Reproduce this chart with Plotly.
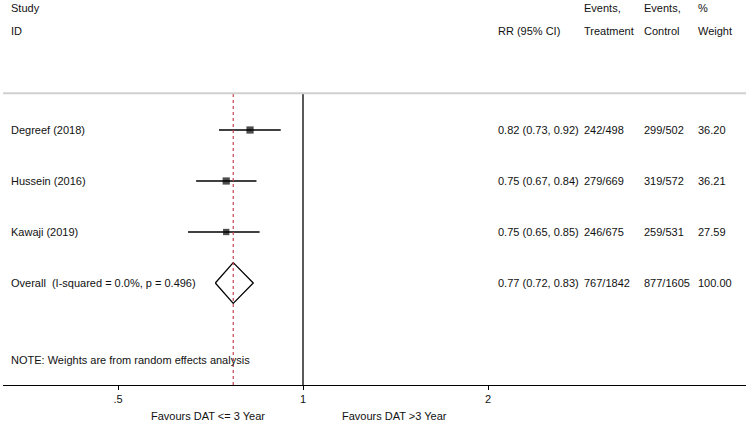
import plotly.graph_objects as go

# ---- data ----
studies = ["Degreef (2018)", "Hussein (2016)", "Kawaji (2019)"]
rr = [0.82, 0.75, 0.75]
ci_low = [0.73, 0.67, 0.65]
ci_high = [0.92, 0.84, 0.85]
ev_treat = ["242/498", "279/669", "246/675"]
ev_ctrl = ["299/502", "319/572", "259/531"]
weights = [36.20, 36.21, 27.59]

overall_label = "Overall  (I-squared = 0.0%, p = 0.496)"
overall_rr = 0.77
overall_low = 0.72
overall_high = 0.83
overall_treat = "767/1842"
overall_ctrl = "877/1605"
overall_weight = 100.00

tick_vals = [0.5, 1, 2]
tick_text = [".5", "1", "2"]

# ---- layout geometry ----
W, H = 750, 424
ML, MR, MT, MB = 3, 4, 94, 39
PW = W - ML - MR
PH = H - MT - MB
FONT = "Liberation Sans, Arial, Helvetica, sans-serif"
FS = 11
TXT = "#111111"

def px_x(px):
    return (px - 2 - ML) / PW

def px_y(py):
    return (H - MB - py) / PH

fig = go.Figure()

rows = list(range(1, len(studies) + 1))
# CI lines
for i, y in enumerate(rows):
    fig.add_trace(go.Scatter(x=[ci_low[i], ci_high[i]], y=[y, y], mode="lines",
                             line=dict(color="black", width=1.5), showlegend=False,
                             hoverinfo="skip"))
# squares
sizes = [1.2 * (w ** 0.5) for w in weights]
fig.add_trace(go.Scatter(x=rr, y=rows, mode="markers",
                         marker=dict(symbol="square", size=sizes, color="black",
                                     line=dict(width=0)),
                         showlegend=False))
# diamond
oy = len(studies) + 1
dh = 0.4
fig.add_trace(go.Scatter(x=[overall_low, overall_rr, overall_high, overall_rr, overall_low],
                         y=[oy, oy - dh, oy, oy + dh, oy], mode="lines",
                         line=dict(color="black", width=1.3), showlegend=False))

# lines
fig.add_shape(type="line", xref="x", yref="paper", x0=1, x1=1, y0=0, y1=1,
              line=dict(color="black", width=1.3))
fig.add_shape(type="line", xref="x", yref="paper", x0=overall_rr, x1=overall_rr, y0=0, y1=1,
              line=dict(color="#c8404f", width=1.2, dash="3px,3px"))
fig.add_shape(type="line", xref="paper", yref="paper", x0=0, x1=1, y0=1.003, y1=1.003,
              line=dict(color="#d0d0d0", width=2))

def ann(text, xpx, y, yref="y", anchor="left"):
    fig.add_annotation(text=text, x=px_x(xpx) if anchor == "left" else (xpx - ML) / PW,
                       xref="paper", y=y, yref=yref,
                       xanchor=anchor, yanchor="middle", showarrow=False,
                       font=dict(family=FONT, size=FS, color=TXT))

# headers
ann("Study", 11, px_y(8), "paper")
ann("ID", 11, px_y(31), "paper")
ann("RR (95% CI)", 498, px_y(31), "paper")
ann("Events,", 584, px_y(8), "paper")
ann("Treatment", 584, px_y(31), "paper")
ann("Events,", 644, px_y(8), "paper")
ann("Control", 644, px_y(31), "paper")
ann("%", 698, px_y(8), "paper")
ann("Weight", 698, px_y(31), "paper")

for i, y in enumerate(rows):
    ann(studies[i], 11, y)
    ann(f"{rr[i]:.2f} ({ci_low[i]:.2f}, {ci_high[i]:.2f})", 498, y)
    ann(ev_treat[i], 584, y)
    ann(ev_ctrl[i], 644, y)
    ann(f"{weights[i]:.2f}", 698, y)

ann(overall_label, 11, oy)
ann(f"{overall_rr:.2f} ({overall_low:.2f}, {overall_high:.2f})", 498, oy)
ann(overall_treat, 584, oy)
ann(overall_ctrl, 644, oy)
ann(f"{overall_weight:.2f}", 698, oy)

ann("NOTE: Weights are from random effects analysis", 11, px_y(360), "paper")
ann("Favours DAT <= 3 Year", 208, px_y(415.5), "paper", anchor="center")
ann("Favours DAT >3 Year", 394, px_y(415.5), "paper", anchor="center")

fig.update_layout(
    width=W, height=H, margin=dict(l=ML, r=MR, t=MT, b=MB),
    paper_bgcolor="white", plot_bgcolor="white", showlegend=False,
    xaxis=dict(type="log", range=[-0.48816, 0.72085], tickvals=tick_vals, ticktext=tick_text,
               showline=True, linecolor="black", linewidth=1, ticks="outside", ticklen=4,
               tickcolor="black", showgrid=False, zeroline=False,
               tickfont=dict(family=FONT, size=FS, color=TXT)),
    yaxis=dict(range=[6.0, 0.294], visible=False, showgrid=False, zeroline=False),
)

fig.write_html("out.html", config={"displayModeBar": False},
               post_script="document.body.style.margin='0';document.body.style.overflow='hidden';")
